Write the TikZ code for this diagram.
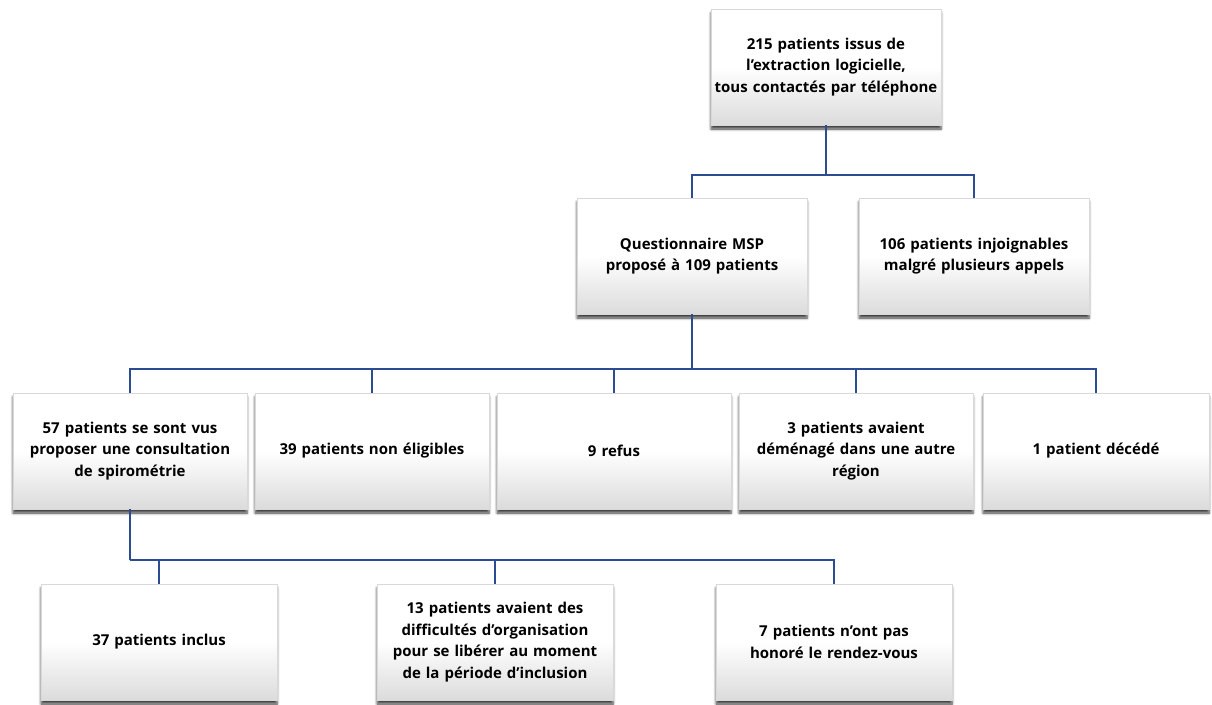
\documentclass[tikz,border=0pt]{standalone}
\usepackage{fontspec}
\setmainfont{Open Sans}
\usetikzlibrary{shadows,shadows.blur}
\definecolor{conn}{RGB}{44,76,145}
\begin{document}
\begin{tikzpicture}[x=1pt,y=-1pt,
  box/.style={rectangle, draw=gray!30, line width=0.5pt,
    top color=white, bottom color=gray!28, middle color=white,
    blur shadow={shadow xshift=0pt, shadow yshift=-4pt, shadow blur steps=6, shadow blur radius=2.5pt, shadow opacity=75},
    font=\bfseries\fontsize{15}{21.5}\selectfont, align=center,
    text width=#1, inner sep=0pt, minimum height=116pt},
  box/.default=226pt,
  link/.style={draw=conn, line width=2.5pt}]
\useasboundingbox (0,0) rectangle (1212,704);
% row 1
\node[box=230pt] (top) at (826,67) {215 patients issus de\\ l'extraction logicielle,\\ tous contactés par téléphone};
% row 2
\node[box=230pt] (q) at (692,256) {Questionnaire MSP\\ proposé à 109 patients};
\node[box=230pt] (inj) at (974,256) {106 patients injoignables\\ malgré plusieurs appels};
% row 3
\node[box=234pt] (a) at (130,451) {57 patients se sont vus\\ proposer une consultation\\ de spirométrie};
\node[box=234pt] (b) at (372,451) {39 patients non éligibles};
\node[box=234pt] (c) at (614,451) {9 refus};
\node[box=234pt] (d) at (856,451) {3 patients avaient\\ déménagé dans une autre\\ région};
\node[box=226pt] (e) at (1096,451) {1 patient décédé};
% row 4
\node[box=236pt] (f) at (159,642) {37 patients inclus};
\node[box=236pt] (g) at (495,642) {13 patients avaient des\\ difficultés d'organisation\\ pour se libérer au moment\\ de la période d'inclusion};
\node[box=236pt] (h) at (834,642) {7 patients n'ont pas\\ honoré le rendez-vous};
% junctions
\coordinate (j1) at (826,175);
\coordinate (j2) at (692,369);
\coordinate (j3) at (130,560);
% connectors
\draw[link] (top.south) -- (j1);
\draw[link] (q.north) |- (j1) -| (inj.north);
\draw[link] (q.south) -- (j2);
\draw[link] (a.north) |- (j2) -| (e.north);
\draw[link] (b.north) -- (b.north |- j2);
\draw[link] (c.north) -- (c.north |- j2);
\draw[link] (d.north) -- (d.north |- j2);
\draw[link] (a.south) -- (j3);
\draw[link] (f.north) |- (j3);
\draw[link] (j3) -| (h.north);
\draw[link] (g.north) -- (g.north |- j3);
\end{tikzpicture}
\end{document}
